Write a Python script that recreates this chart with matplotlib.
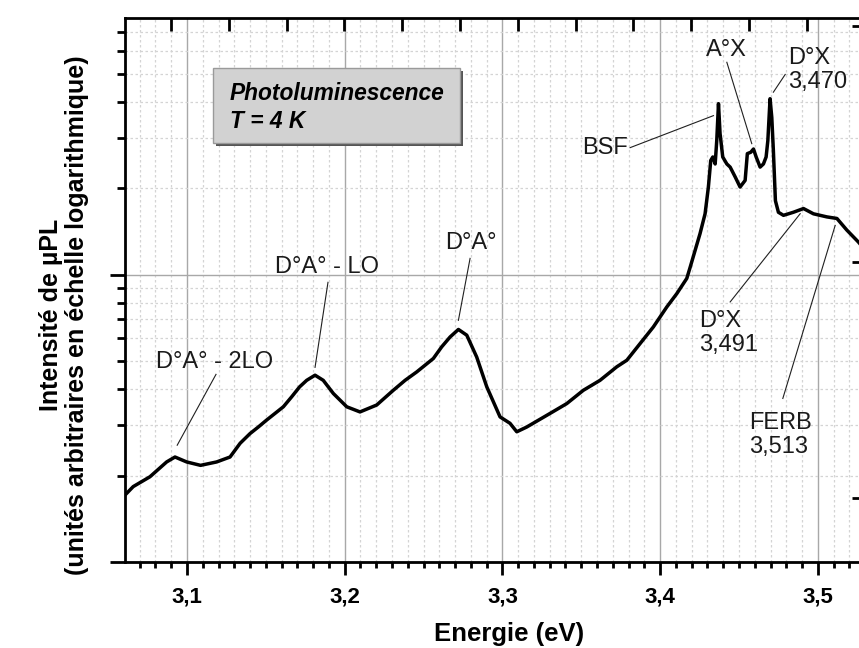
import matplotlib
matplotlib.use("Agg")
import matplotlib.pyplot as plt
from matplotlib.patches import Rectangle
from matplotlib.ticker import LogLocator, MultipleLocator, NullFormatter
import numpy as np

plt.rcParams['font.family'] = ['Liberation Sans', 'DejaVu Sans']

# PL spectrum (energy in eV, intensity in arb. units, log scale)
energy = [3.0607, 3.0659, 3.0765, 3.0871, 3.0924, 3.0998, 3.1086, 3.1188, 3.1273, 3.1337,
          3.1400, 3.1452, 3.1505, 3.1558, 3.1611, 3.1664, 3.1714, 3.1759, 3.1812, 3.1864,
          3.1928, 3.2013, 3.2097, 3.2203, 3.2308, 3.2383, 3.2457, 3.2562, 3.2615, 3.2668,
          3.2721, 3.2774, 3.2837, 3.2901, 3.2985, 3.3048, 3.3091, 3.3154, 3.3302, 3.3408,
          3.3513, 3.3619, 3.3725, 3.3789, 3.3873, 3.3957, 3.4042, 3.4106, 3.4169, 3.4190,
          3.4253, 3.4285, 3.4306, 3.4321, 3.4334, 3.4349, 3.4359, 3.4370, 3.4380, 3.4397,
          3.4423, 3.4444, 3.4476, 3.4507, 3.4539, 3.4553, 3.4575, 3.4592, 3.4609, 3.4634,
          3.4655, 3.4672, 3.4683, 3.4697, 3.4708, 3.4718, 3.4731, 3.4750, 3.4782, 3.4845,
          3.4909, 3.4972, 3.5057, 3.5121, 3.5184, 3.5257, 3.5300]
intensity = [1.71, 1.83, 1.98, 2.23, 2.32, 2.23, 2.17, 2.23, 2.32, 2.59,
             2.80, 2.95, 3.12, 3.29, 3.47, 3.76, 4.07, 4.29, 4.47, 4.29,
             3.86, 3.47, 3.33, 3.52, 3.96, 4.29, 4.59, 5.11, 5.61, 6.07,
             6.45, 6.16, 5.17, 4.07, 3.20, 3.04, 2.84, 2.95, 3.29, 3.56,
             3.96, 4.29, 4.78, 5.04, 5.76, 6.58, 7.72, 8.60, 9.71, 10.6,
             13.9, 16.3, 20.2, 25.0, 25.7, 24.3, 29.3, 39.4, 31.0, 25.7,
             24.3, 23.7, 21.9, 20.2, 21.3, 26.4, 26.7, 27.4, 25.7, 23.7,
             24.3, 25.7, 29.3, 41.0, 35.3, 27.1, 18.1, 16.5, 16.1, 16.5,
             17.0, 16.3, 15.9, 15.7, 14.3, 13.0, 12.2]

# peak labels: text, text position (E, I), alignment, leader start, leader end
labels = ["D°A° - 2LO", "D°A° - LO", "D°A°", "BSF", "A°X",
          "D°X\n3,470", "D°X\n3,491", "FERB\n3,513"]
label_pos = [(3.1172, 4.96), (3.1888, 10.61), (3.2801, 12.86), (3.3651, 27.7), (3.4418, 60.8),
             (3.4812, 51.8), (3.4247, 6.28), (3.4564, 2.765)]
label_ha = ["center", "center", "center", "center", "center", "left", "left", "left"]
leader_start = [(3.1184, 4.50), (3.1894, 9.41), (3.2795, 11.40), (3.3810, 27.7), (3.4423, 54.9),
                (3.4793, 49.8), (3.4444, 8.04), (3.4778, 3.71)]
leader_end = [(3.0938, 2.55), (3.1812, 4.76), (3.2721, 6.94), (3.4338, 35.8), (3.4581, 28.6),
              (3.4718, 43.2), (3.4888, 16.31), (3.5110, 14.85)]

x_ticks = [3.1, 3.2, 3.3, 3.4, 3.5]
x_ticklabels = ["3,1", "3,2", "3,3", "3,4", "3,5"]

fig = plt.figure(figsize=(8.59, 6.48), dpi=100)
W, H = 859, 648
ax = fig.add_axes([125 / W, (H - 562) / H, (862 - 125) / W, (562 - 18) / H])

ax.set_yscale('log')
ax.set_xlim(3.0607, 3.528)
ax.set_ylim(1, 78.3)

# grid
ax.set_xticks(x_ticks)
ax.set_xticklabels(x_ticklabels)
ax.xaxis.set_minor_locator(MultipleLocator(0.01))
ax.yaxis.set_major_locator(LogLocator(base=10, numticks=5))
ax.yaxis.set_minor_locator(LogLocator(base=10, subs=np.arange(2, 10), numticks=20))
ax.yaxis.set_major_formatter(NullFormatter())
ax.yaxis.set_minor_formatter(NullFormatter())
ax.grid(True, which='major', color='#a8a8a8', lw=1.0, ls='-')
ax.grid(True, which='minor', color='#d4d4d4', lw=0.9, ls=(0, (2, 2)))
ax.set_axisbelow(True)

ax.plot(energy, intensity, color='black', lw=2.5, zorder=3, solid_joinstyle='round')

for side in ['left', 'bottom', 'top']:
    ax.spines[side].set_linewidth(2)
ax.spines['right'].set_visible(False)

ax.tick_params(axis='x', which='major', direction='out', length=9.5, width=2,
               labelsize=16, pad=8)
ax.tick_params(axis='x', which='minor', direction='out', length=4.5, width=2)
ax.tick_params(axis='y', which='major', direction='out', length=11, width=2)
ax.tick_params(axis='y', which='minor', direction='out', length=5.5, width=2)
for lab in ax.get_xticklabels():
    lab.set_fontweight('bold')

# top axis ticks (second scale, unlabelled)
ax_top = ax.twiny()
ax_top.set_xlim(ax.get_xlim())
ax_top.set_xticks(3.0899 + 0.03665 * np.arange(12))
ax_top.tick_params(axis='x', direction='in', length=9, width=2, labeltop=False)
for side in ['left', 'bottom', 'top', 'right']:
    ax_top.spines[side].set_visible(False)

# right axis ticks (partly out of frame)
ax_r = ax.twinx()
ax_r.set_yscale('log')
ax_r.set_ylim(10 ** -0.271, 10 ** 2.034)
ax_r.yaxis.set_major_locator(LogLocator(base=10, numticks=5))
ax_r.yaxis.set_minor_locator(LogLocator(base=10, subs=np.arange(2, 10), numticks=20))
ax_r.yaxis.set_major_formatter(NullFormatter())
ax_r.yaxis.set_minor_formatter(NullFormatter())
ax_r.tick_params(axis='y', which='major', direction='in', length=7, width=2)
ax_r.tick_params(axis='y', which='minor', direction='in', length=2, width=2)
for side in ['left', 'bottom', 'top', 'right']:
    ax_r.spines[side].set_visible(False)

# peak labels with leader lines
for text, pos, ha, p0, p1 in zip(labels, label_pos, label_ha, leader_start, leader_end):
    ax.text(pos[0], pos[1], text, ha=ha, va='center', fontsize=17,
            color='#1a1a1a', linespacing=1.12, zorder=5)
    ax.plot([p0[0], p1[0]], [p0[1], p1[1]], color='#202020', lw=0.8, zorder=4)

# legend-like box
bx, by, bw, bh = 0.1194, 0.7702, 0.3351, 0.1379
ax.add_patch(Rectangle((bx + 3 / 737, by - 3 / 544), bw, bh, transform=ax.transAxes,
                       facecolor='#555555', edgecolor='none', zorder=6))
ax.add_patch(Rectangle((bx, by), bw, bh, transform=ax.transAxes,
                       facecolor='#d2d2d2', edgecolor='#9a9a9a', lw=1, zorder=7))
ax.text(0.1425, 0.862, "Photoluminescence", transform=ax.transAxes, fontsize=16.4,
        fontweight='bold', fontstyle='italic', va='center', ha='left', zorder=8)
ax.text(0.1425, 0.809, "T = 4 K", transform=ax.transAxes, fontsize=16.4,
        fontweight='bold', fontstyle='italic', va='center', ha='left', zorder=8)

fig.text(509 / W, 1 - 634 / H, "Energie (eV)", ha='center', va='center',
         fontsize=18.5, fontweight='bold')
fig.text(64 / W, 1 - 315 / H,
         "Intensité de µPL\n(unités arbitraires en échelle logarithmique)",
         ha='center', va='center', rotation=90, fontsize=18, fontweight='bold',
         linespacing=1.1)

fig.savefig("out.png", dpi=100)
